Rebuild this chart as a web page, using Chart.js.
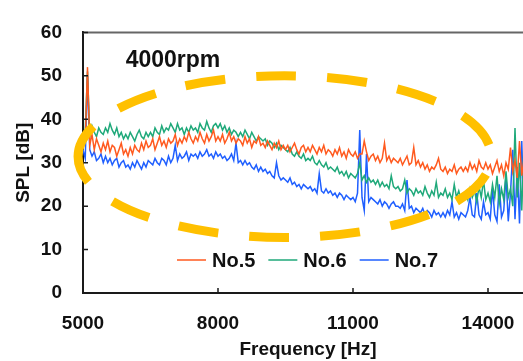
<!DOCTYPE html>
<html>
<head>
<meta charset="utf-8">
<script src="https://cdn.jsdelivr.net/npm/chart.js@4.4.0/dist/chart.umd.min.js"></script>
<style>
html, body { margin: 0; padding: 0; background: #fff; overflow: hidden; }
#wrap { width: 545px; height: 361px; }
</style>
</head>
<body>
<div id="wrap"><canvas id="splChart" width="545" height="361"></canvas></div>
<script>
// spectrum sampled every 50 Hz from 5000 Hz
const freqStart = 5000;
const freqStep = 50;
const seriesNames = ['No.5', 'No.6', 'No.7'];

const no5 = [
    33.5, 35, 52, 34, 36.5, 33, 35.5, 34, 32.5, 34.5,
    33, 35, 32.5, 34, 33.5, 31.5, 33, 34.5, 32, 33,
    31.5, 33.5, 32, 34, 33, 32.5, 34.5, 33, 35, 33.5,
    34, 35.5, 33, 34.5, 36, 34, 35, 33.5, 35.5, 34.5,
    35, 36.5, 34, 35.5, 34.5, 36, 35, 37, 35.5, 34.5,
    36, 35, 37, 35.5, 34.5, 36.5, 35, 36, 37.5, 35,
    36, 35, 36.5, 34.5, 35.5, 37, 35, 36, 34.5, 35.5,
    35, 34, 36, 34.5, 35.5, 33.5, 35, 34.5, 36, 34,
    34.5, 33.5, 35, 34, 33, 34.5, 33.5, 35, 33, 34,
    33, 34, 32.5, 33.5, 34.5, 33, 32, 33.5, 34, 32.5,
    33.5, 32.5, 34, 33, 32, 33.5, 32.5, 34, 32, 33,
    32.5, 31.5, 33, 32, 33.5, 31.5, 32.5, 31, 33, 32,
    31.5, 32.5, 31, 32, 32, 35, 32.5, 30.5, 31.5, 32,
    30.5, 31.5, 30, 31, 34.5, 30.5, 31.5, 30, 31, 30.5,
    30, 31, 29.5, 30.5, 31.5, 29.5, 30, 33.5, 29.5, 30.5,
    29, 30, 28.5, 29.5, 28, 29, 28.5, 29.5, 31, 28.5,
    28, 29, 27.5, 28.5, 28, 29.5, 27.5, 28.5, 29, 28,
    29, 28, 30, 28.5, 29.5, 28, 30.5, 29, 28.5, 30,
    28.5, 29.5, 27.5, 29, 30.5, 28, 29.5, 27, 30, 28.5,
    33.5, 28, 30.5, 26.5, 35, 27, 31, 36, 28, 33, 29
];
const no6 = [
    35, 37.5, 51, 36, 38.5, 37, 36, 38, 37, 36.5,
    38, 37, 39, 37.5, 36.5, 38, 36, 37, 35.5, 36.5,
    35.5, 37, 36, 35, 36.5, 37.5, 36, 35.5, 37, 36,
    37, 36, 38, 37, 36.5, 38.5, 37, 38, 37.5, 39,
    38, 37, 39, 37.5, 38, 36.5, 38, 37, 38.5, 37.5,
    38, 37, 39, 38, 37.5, 39.5, 38, 37, 38.5, 39,
    38, 39, 37.5, 38.5, 37, 38, 36.5, 37.5, 37, 36,
    37, 36, 37.5, 36.5, 35.5, 37, 36, 35, 36, 35.5,
    35, 35.5, 34, 35, 34.5, 33.5, 34.5, 33, 34, 33.5,
    33, 32.5, 33.5, 32, 31.5, 32.5, 31.5, 31, 32, 30.5,
    31, 30.5, 31.5, 30, 29.5, 30.5, 29.5, 29, 30, 28.5,
    29, 28.5, 28, 29, 27.5, 28, 27, 28, 26.5, 27.5,
    27, 26.5, 27.5, 30, 26, 27, 25.5, 26.5, 25.5, 26,
    25, 26, 24.5, 25.5, 24.5, 25, 24, 27, 24.5, 24,
    24.5, 23.5, 24, 26, 23, 24, 23.5, 22.5, 24, 23,
    23.5, 22.5, 24.5, 23, 22, 23.5, 22.5, 25.5, 22, 23,
    22.5, 24, 22, 23, 21.5, 25, 22, 23.5, 21.5, 22.5,
    23, 21.5, 24, 22, 23.5, 21, 24.5, 22, 26, 21.5,
    23, 21, 25, 22, 27, 20.5, 24, 21.5, 28, 22,
    24, 20, 38, 22, 30, 19, 35, 21, 28, 23, 25
];
const no7 = [
    33, 31, 50, 33, 31.5, 32.5, 30.5, 31, 32, 30,
    31.5, 30, 31, 29.5, 30.5, 31, 29, 30, 30.5, 29,
    29.5, 28.5, 30, 29, 30.5, 29.5, 28.5, 30, 29, 30.5,
    30, 29.5, 31, 30, 29.5, 31, 30.5, 29.5, 31.5, 30,
    31, 34, 30.5, 32, 31, 31.5, 32.5, 30.5, 32, 31.5,
    32, 31, 32.5, 31.5, 32, 33, 31.5, 32, 31, 32.5,
    31.5, 32, 31, 31.5, 30.5, 31, 32, 30.5, 34.5, 30,
    30.5, 29.5, 30.5, 29.5, 30, 29, 28.5, 29.5, 28, 29,
    28, 28.5, 27.5, 28, 27, 26.5, 30, 27, 26, 26.5,
    26, 25.5, 26.5, 25, 25.5, 24.5, 25, 24, 25, 24.5,
    24, 24.5, 23.5, 24, 23, 27.5, 23.5, 23, 24, 23,
    23.5, 22.5, 23, 22, 23, 22.5, 21.5, 22.5, 22, 21.5,
    22, 21, 23, 37.5, 22, 19, 32, 21, 22, 21.5,
    21, 20.5, 21.5, 20, 21, 20.5, 19.5, 20.5, 21, 20,
    20, 19.5, 20.5, 19, 26, 19.5, 20, 18.5, 19.5, 19,
    18.5, 19.5, 18, 19, 18.5, 17.5, 19, 18, 18.5, 17.5,
    18.5, 17.5, 19, 18, 21, 17.5, 18.5, 17, 18.5, 18,
    17.5, 19, 22, 18, 17.5, 23, 18, 17, 21, 18,
    18.5, 17, 24, 18, 16.5, 25, 17.5, 19, 27, 16.5,
    23, 33, 17, 29, 16, 35, 18, 26, 15, 30, 17
];

const xTicks = [5000, 8000, 11000, 14000];
const yTicks = [0, 10, 20, 30, 40, 50, 60];

// dashed ellipse around the curves, in data units (Hz, dB)
const ringCenter = [9480, 31.4];
const ringRadius = [4590, 18.6];
const rpmText = '4000rpm';
const rpmPos = [7000, 53.6];

const colors = ['#ff5a1f', '#1fa97a', '#1f5fff'];
const fontFam = '"Liberation Sans", Arial, sans-serif';

const freqs = no5.map((_, i) => freqStart + i * freqStep);
const series = [no5, no6, no7];

const overlay = {
    id: 'overlay',
    afterDatasetsDraw(chart) {
        const ctx = chart.ctx;
        const area = chart.chartArea;
        const xs = chart.scales.x;
        const ys = chart.scales.y;
        ctx.save();

        // top frame line
        ctx.strokeStyle = '#666';
        ctx.lineWidth = 2;
        ctx.beginPath();
        ctx.moveTo(area.left, area.top);
        ctx.lineTo(area.right, area.top);
        ctx.stroke();

        // inward tick marks
        ctx.strokeStyle = '#1a1a1a';
        ctx.lineWidth = 1.5;
        ctx.beginPath();
        yTicks.slice(1).forEach(v => {
            const py = ys.getPixelForValue(v);
            ctx.moveTo(area.left, py);
            ctx.lineTo(area.left + 5, py);
        });
        xTicks.slice(1).forEach(v => {
            const px = xs.getPixelForValue(v);
            ctx.moveTo(px, area.bottom);
            ctx.lineTo(px, area.bottom - 5);
        });
        ctx.stroke();

        // ellipse
        const cx = xs.getPixelForValue(ringCenter[0]);
        const cy = ys.getPixelForValue(ringCenter[1]);
        const rx = xs.getPixelForValue(ringCenter[0] + ringRadius[0]) - cx;
        const ry = cy - ys.getPixelForValue(ringCenter[1] + ringRadius[1]);
        ctx.strokeStyle = '#ffc000';
        ctx.lineWidth = 9;
        ctx.lineCap = 'butt';
        ctx.setLineDash([40, 31]);
        ctx.lineDashOffset = 5;
        ctx.beginPath();
        ctx.ellipse(cx, cy, rx, ry, 0, Math.PI, 3 * Math.PI);
        ctx.stroke();
        ctx.setLineDash([]);

        // rpm label
        ctx.fillStyle = '#111';
        ctx.font = 'bold 23px ' + fontFam;
        ctx.textAlign = 'center';
        ctx.textBaseline = 'middle';
        ctx.fillText(rpmText, xs.getPixelForValue(rpmPos[0]), ys.getPixelForValue(rpmPos[1]));

        // legend inside the plot
        ctx.font = 'bold 20px ' + fontFam;
        ctx.textAlign = 'left';
        let lx = 177;
        const ly = area.bottom - 33;
        chart.data.datasets.forEach(ds => {
            ctx.strokeStyle = ds.borderColor;
            ctx.lineWidth = 1.5;
            ctx.beginPath();
            ctx.moveTo(lx, ly);
            ctx.lineTo(lx + 29, ly);
            ctx.stroke();
            ctx.fillStyle = '#111';
            ctx.fillText(ds.label, lx + 35, ly + 1);
            lx += 35 + ctx.measureText(ds.label).width + 13;
        });

        ctx.restore();
    }
};

const tickFont = { family: fontFam, weight: 'bold', size: 19 };

const chart = new Chart(document.getElementById('splChart').getContext('2d'), {
    type: 'line',
    data: {
        datasets: series.map((vals, k) => ({
            label: seriesNames[k],
            data: vals.map((v, i) => ({ x: freqs[i], y: v })),
            borderColor: colors[k],
            backgroundColor: colors[k],
            borderWidth: 1.5,
            pointRadius: 0,
            tension: 0,
            fill: false
        }))
    },
    options: {
        responsive: false,
        animation: false,
        layout: { padding: { left: 0, right: 12, top: 22, bottom: 0 } },
        plugins: {
            legend: { display: false },
            tooltip: { enabled: false }
        },
        scales: {
            x: {
                type: 'linear',
                min: 5000,
                max: 15000,
                afterBuildTicks: s => { s.ticks = xTicks.map(v => ({ value: v })); },
                afterFit: s => { s.height = 68; },
                grid: { display: false, drawTicks: false },
                border: { color: '#1a1a1a', width: 2 },
                ticks: {
                    padding: 19,
                    color: '#111',
                    font: tickFont,
                    maxRotation: 0,
                    callback: v => String(v)
                },
                title: {
                    display: true,
                    text: 'Frequency [Hz]',
                    color: '#111',
                    font: tickFont,
                    padding: { top: 0, bottom: 0 }
                }
            },
            y: {
                min: 0,
                max: 60,
                afterBuildTicks: s => { s.ticks = yTicks.map(v => ({ value: v })); },
                afterFit: s => { s.width = 83; },
                grid: { display: false, drawTicks: false },
                border: { color: '#1a1a1a', width: 2 },
                ticks: { padding: 21, color: '#111', font: tickFont },
                title: {
                    display: true,
                    text: 'SPL [dB]',
                    color: '#111',
                    font: tickFont,
                    padding: { top: 12, bottom: 0 }
                }
            }
        }
    },
    plugins: [overlay]
});
</script>
</body>
</html>
